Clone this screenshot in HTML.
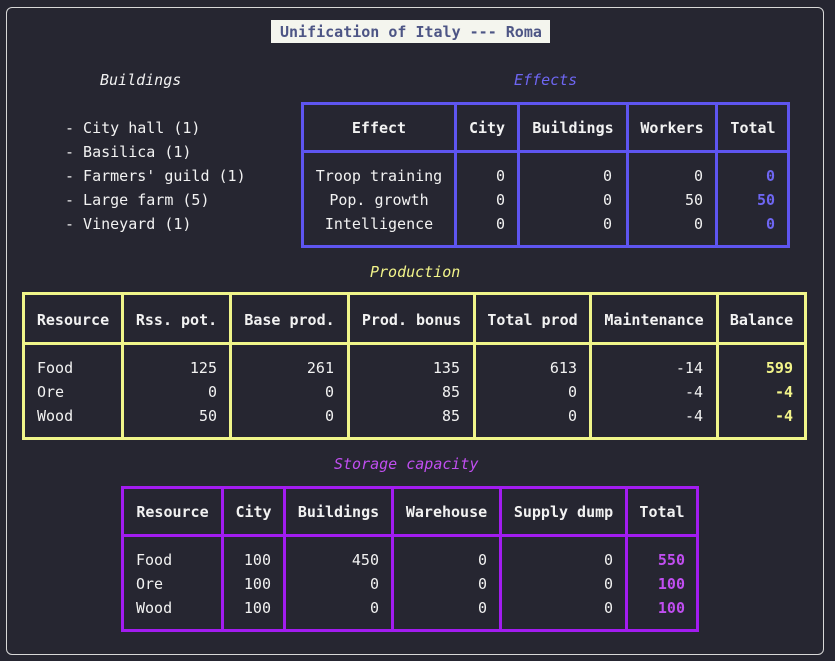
<!DOCTYPE html>
<html><head><meta charset="utf-8"><style>
html,body{margin:0;padding:0;background:#262631;width:835px;height:661px;overflow:hidden}
body{position:relative;font-family:"DejaVu Sans Mono","Liberation Mono",monospace;font-size:15px;color:#f2f2f2}
.a{position:absolute;line-height:24px;white-space:pre;height:24px;margin-top:1px}
.b{font-weight:bold}
.i{font-style:italic}
.r{text-align:right}
.c{text-align:center}
.box{position:absolute;box-sizing:border-box;border:3px solid}
.v{position:absolute;width:3px}
.h{position:absolute;height:3px}
</style></head><body>
<div style="position:absolute;left:6px;top:7px;width:818px;height:648px;border:1px solid #d8d8d8;border-radius:6px;box-sizing:border-box"></div>

<div style="position:absolute;left:271px;top:20px;width:279px;height:23px;background:#f4f5ee"></div>
<div class="a b" style="left:280px;top:19px;color:#4d5585">Unification of Italy --- Roma</div>

<div class="a i" style="left:100px;top:67px">Buildings</div>
<div class="a" style="left:65px;top:115px">- City hall (1)</div>
<div class="a" style="left:65px;top:139px">- Basilica (1)</div>
<div class="a" style="left:65px;top:163px">- Farmers' guild (1)</div>
<div class="a" style="left:65px;top:187px">- Large farm (5)</div>
<div class="a" style="left:65px;top:211px">- Vineyard (1)</div>

<!-- Effects -->
<div class="a i" style="left:514px;top:67px;color:#6e66f2">Effects</div>
<div class="box" style="left:301px;top:102px;width:489px;height:146px;border-color:#5e55f0"></div>
<div class="h" style="left:301px;top:150px;width:489px;background:#5e55f0"></div>
<div class="v" style="left:454px;top:102px;height:146px;background:#5e55f0"></div>
<div class="v" style="left:517px;top:102px;height:146px;background:#5e55f0"></div>
<div class="v" style="left:626px;top:102px;height:146px;background:#5e55f0"></div>
<div class="v" style="left:715px;top:102px;height:146px;background:#5e55f0"></div>
<div class="a b c" style="left:304px;width:150px;top:115px">Effect</div>
<div class="a b c" style="left:457px;width:60px;top:115px">City</div>
<div class="a b c" style="left:520px;width:106px;top:115px">Buildings</div>
<div class="a b c" style="left:629px;width:86px;top:115px">Workers</div>
<div class="a b c" style="left:718px;width:70px;top:115px">Total</div>
<div class="a c" style="left:304px;width:150px;top:163px">Troop training</div>
<div class="a c" style="left:304px;width:150px;top:187px">Pop. growth</div>
<div class="a c" style="left:304px;width:150px;top:211px">Intelligence</div>
<div class="a r" style="left:440px;width:65px;top:163px">0</div>
<div class="a r" style="left:440px;width:65px;top:187px">0</div>
<div class="a r" style="left:440px;width:65px;top:211px">0</div>
<div class="a r" style="left:540px;width:72px;top:163px">0</div>
<div class="a r" style="left:540px;width:72px;top:187px">0</div>
<div class="a r" style="left:540px;width:72px;top:211px">0</div>
<div class="a r" style="left:640px;width:63px;top:163px">0</div>
<div class="a r" style="left:640px;width:63px;top:187px">50</div>
<div class="a r" style="left:640px;width:63px;top:211px">0</div>
<div class="a r b" style="left:720px;width:55px;top:163px;color:#6e66f2">0</div>
<div class="a r b" style="left:720px;width:55px;top:187px;color:#6e66f2">50</div>
<div class="a r b" style="left:720px;width:55px;top:211px;color:#6e66f2">0</div>

<!-- Production -->
<div class="a i" style="left:370px;top:259px;color:#f2f48a">Production</div>
<div class="box" style="left:22px;top:292px;width:785px;height:148px;border-color:#f0f58a"></div>
<div class="h" style="left:22px;top:342px;width:785px;background:#f0f58a"></div>
<div class="v" style="left:121px;top:292px;height:148px;background:#f0f58a"></div>
<div class="v" style="left:229px;top:292px;height:148px;background:#f0f58a"></div>
<div class="v" style="left:347px;top:292px;height:148px;background:#f0f58a"></div>
<div class="v" style="left:473px;top:292px;height:148px;background:#f0f58a"></div>
<div class="v" style="left:589px;top:292px;height:148px;background:#f0f58a"></div>
<div class="v" style="left:716px;top:292px;height:148px;background:#f0f58a"></div>
<div class="a b c" style="left:25px;width:96px;top:307px">Resource</div>
<div class="a b c" style="left:124px;width:105px;top:307px">Rss. pot.</div>
<div class="a b c" style="left:232px;width:115px;top:307px">Base prod.</div>
<div class="a b c" style="left:350px;width:123px;top:307px">Prod. bonus</div>
<div class="a b c" style="left:476px;width:113px;top:307px">Total prod</div>
<div class="a b c" style="left:592px;width:124px;top:307px">Maintenance</div>
<div class="a b c" style="left:719px;width:85px;top:307px">Balance</div>
<div class="a" style="left:37px;top:355px">Food</div>
<div class="a" style="left:37px;top:379px">Ore</div>
<div class="a" style="left:37px;top:403px">Wood</div>
<div class="a r" style="left:124px;width:93px;top:355px">125</div>
<div class="a r" style="left:124px;width:93px;top:379px">0</div>
<div class="a r" style="left:124px;width:93px;top:403px">50</div>
<div class="a r" style="left:232px;width:102px;top:355px">261</div>
<div class="a r" style="left:232px;width:102px;top:379px">0</div>
<div class="a r" style="left:232px;width:102px;top:403px">0</div>
<div class="a r" style="left:350px;width:110px;top:355px">135</div>
<div class="a r" style="left:350px;width:110px;top:379px">85</div>
<div class="a r" style="left:350px;width:110px;top:403px">85</div>
<div class="a r" style="left:476px;width:101px;top:355px">613</div>
<div class="a r" style="left:476px;width:101px;top:379px">0</div>
<div class="a r" style="left:476px;width:101px;top:403px">0</div>
<div class="a r" style="left:592px;width:111px;top:355px">-14</div>
<div class="a r" style="left:592px;width:111px;top:379px">-4</div>
<div class="a r" style="left:592px;width:111px;top:403px">-4</div>
<div class="a r b" style="left:719px;width:74px;top:355px;color:#f2f48a">599</div>
<div class="a r b" style="left:719px;width:74px;top:379px;color:#f2f48a">-4</div>
<div class="a r b" style="left:719px;width:74px;top:403px;color:#f2f48a">-4</div>

<!-- Storage -->
<div class="a i" style="left:334px;top:451px;color:#c04ef0">Storage capacity</div>
<div class="box" style="left:121px;top:486px;width:578px;height:146px;border-color:#a21cf0"></div>
<div class="h" style="left:121px;top:534px;width:578px;background:#a21cf0"></div>
<div class="v" style="left:221px;top:486px;height:146px;background:#a21cf0"></div>
<div class="v" style="left:283px;top:486px;height:146px;background:#a21cf0"></div>
<div class="v" style="left:391px;top:486px;height:146px;background:#a21cf0"></div>
<div class="v" style="left:499px;top:486px;height:146px;background:#a21cf0"></div>
<div class="v" style="left:625px;top:486px;height:146px;background:#a21cf0"></div>
<div class="a b c" style="left:124px;width:97px;top:499px">Resource</div>
<div class="a b c" style="left:224px;width:59px;top:499px">City</div>
<div class="a b c" style="left:286px;width:105px;top:499px">Buildings</div>
<div class="a b c" style="left:394px;width:105px;top:499px">Warehouse</div>
<div class="a b c" style="left:502px;width:123px;top:499px">Supply dump</div>
<div class="a b c" style="left:628px;width:68px;top:499px">Total</div>
<div class="a" style="left:136px;top:547px">Food</div>
<div class="a" style="left:136px;top:571px">Ore</div>
<div class="a" style="left:136px;top:595px">Wood</div>
<div class="a r" style="left:224px;width:47px;top:547px">100</div>
<div class="a r" style="left:224px;width:47px;top:571px">100</div>
<div class="a r" style="left:224px;width:47px;top:595px">100</div>
<div class="a r" style="left:286px;width:93px;top:547px">450</div>
<div class="a r" style="left:286px;width:93px;top:571px">0</div>
<div class="a r" style="left:286px;width:93px;top:595px">0</div>
<div class="a r" style="left:394px;width:93px;top:547px">0</div>
<div class="a r" style="left:394px;width:93px;top:571px">0</div>
<div class="a r" style="left:394px;width:93px;top:595px">0</div>
<div class="a r" style="left:502px;width:111px;top:547px">0</div>
<div class="a r" style="left:502px;width:111px;top:571px">0</div>
<div class="a r" style="left:502px;width:111px;top:595px">0</div>
<div class="a r b" style="left:628px;width:57px;top:547px;color:#c04ef0">550</div>
<div class="a r b" style="left:628px;width:57px;top:571px;color:#c04ef0">100</div>
<div class="a r b" style="left:628px;width:57px;top:595px;color:#c04ef0">100</div>
</body></html>
